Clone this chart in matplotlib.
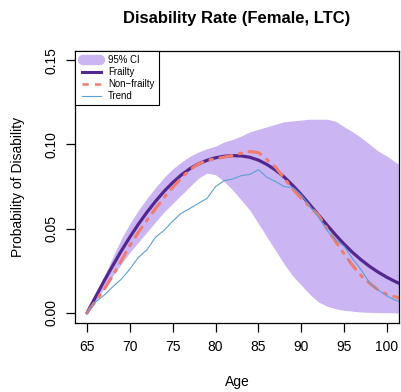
import matplotlib
matplotlib.use("Agg")
import matplotlib.pyplot as plt
from matplotlib.lines import Line2D
from matplotlib.legend_handler import HandlerLine2D

plt.rcParams['font.family'] = ['Liberation Sans', 'DejaVu Sans']

# ---------- Data ----------
ages = list(range(65, 103))

ci_upper = [0.000, 0.011, 0.022, 0.033, 0.044, 0.053, 0.061, 0.068, 0.0745, 0.0805,
            0.0855, 0.0895, 0.093, 0.0955, 0.0975, 0.099, 0.1015, 0.103, 0.105, 0.1075,
            0.109, 0.1105, 0.112, 0.1135, 0.114, 0.1145, 0.115, 0.115, 0.115, 0.1138,
            0.1105, 0.1075, 0.104, 0.100, 0.096, 0.093, 0.0895, 0.086]

ci_lower = [0.000, 0.007, 0.0145, 0.022, 0.029, 0.036, 0.042, 0.048, 0.054, 0.060,
            0.065, 0.070, 0.075, 0.080, 0.083, 0.082, 0.078, 0.073, 0.067, 0.061,
            0.053, 0.045, 0.037, 0.029, 0.022, 0.0165, 0.011, 0.0065, 0.004, 0.0025,
            0.0015, 0.001, 0.0005, 0.0003, 0.0002, 0.0001, 0.000, 0.000]

frailty = [0.000, 0.0095, 0.019, 0.028, 0.0368, 0.045, 0.0527, 0.0598, 0.0663, 0.0722,
           0.0774, 0.0819, 0.0856, 0.0885, 0.0906, 0.0921, 0.0930, 0.0934, 0.0932, 0.0924,
           0.0907, 0.0881, 0.0848, 0.0807, 0.0757, 0.0702, 0.0642, 0.0582, 0.0522, 0.0463,
           0.0408, 0.0358, 0.0314, 0.0275, 0.0241, 0.0211, 0.0185, 0.0162]

non_frailty = [0.000, 0.007, 0.014, 0.022, 0.031, 0.040, 0.048, 0.055, 0.062, 0.0685,
               0.0745, 0.080, 0.085, 0.0885, 0.0905, 0.0915, 0.0925, 0.0935, 0.0948, 0.0958,
               0.0952, 0.091, 0.0865, 0.080, 0.0735, 0.068, 0.063, 0.058, 0.050, 0.0425,
               0.035, 0.028, 0.022, 0.0175, 0.0135, 0.011, 0.0095, 0.008]

trend = [0.000, 0.0065, 0.0105, 0.0155, 0.020, 0.026, 0.033, 0.0375, 0.045, 0.049,
         0.0545, 0.0592, 0.062, 0.065, 0.068, 0.075, 0.0785, 0.0795, 0.0815, 0.0822,
         0.085, 0.0805, 0.078, 0.075, 0.0745, 0.070, 0.0635, 0.057, 0.049, 0.0435,
         0.0395, 0.032, 0.0255, 0.0175, 0.0135, 0.010, 0.0075, 0.006]

x_ticks = [65, 70, 75, 80, 85, 90, 95, 100]
y_ticks = [0.00, 0.05, 0.10, 0.15]
y_tick_labels = ["0.00", "0.05", "0.10", "0.15"]

# ---------- Colours ----------
band_col = '#CBB5F2'
frail_col = '#54278F'
nonfrail_col = '#F07B6E'
trend_col = '#5B9FD6'


class ShortLineHandler(HandlerLine2D):
    # shrink the legend line at both ends
    def __init__(self, shrink, **kw):
        super().__init__(**kw)
        self.shrink = shrink

    def create_artists(self, legend, orig_handle, xdescent, ydescent,
                       width, height, fontsize, trans):
        artists = super().create_artists(legend, orig_handle, xdescent, ydescent,
                                         width, height, fontsize, trans)
        for a in artists:
            xd = list(a.get_xdata())
            if len(xd) >= 2:
                lo, hi = xd[0] + self.shrink, xd[-1] - self.shrink
                step = (hi - lo) / (len(xd) - 1)
                a.set_xdata([lo + i * step for i in range(len(xd))])
        return artists


# ---------- Plot ----------
fig = plt.figure(figsize=(4.01, 3.92), dpi=100)
ax = fig.add_axes([75 / 401, 69 / 392, 324 / 401, 272 / 392])

ax.fill_between(ages, ci_lower, ci_upper, color=band_col, linewidth=0)
ax.plot(ages, frailty, color=frail_col, linewidth=2.3, solid_capstyle='round',
        solid_joinstyle='round')
ax.plot(ages, non_frailty, color=nonfrail_col, linewidth=2.2,
        dashes=(4, 2.5, 0.8, 2.5), dash_capstyle='round')
ax.plot(ages, trend, color=trend_col, linewidth=0.8)

ax.set_xlim(63.6, 101.4)
ax.set_ylim(-0.006, 0.1555)
ax.set_xticks(x_ticks)
ax.set_yticks(y_ticks)
ax.set_yticklabels(y_tick_labels, rotation=90, va='center')
ax.tick_params(axis='both', direction='out', length=6.5, width=0.9, labelsize=10)
ax.tick_params(axis='x', pad=6)
ax.tick_params(axis='y', pad=5.5)
for s in ax.spines.values():
    s.set_linewidth(0.9)

ax.set_title("Disability Rate (Female, LTC)", fontsize=12, fontweight='bold', pad=20)
ax.set_xlabel("Age", fontsize=10, labelpad=15)
ax.set_ylabel("Probability of Disability", fontsize=10, labelpad=14)

# ---------- Legend ----------
ci_h = Line2D([], [], color=band_col, linewidth=7.5, solid_capstyle='round')
frail_h = Line2D([], [], color=frail_col, linewidth=2.2)
nonfrail_h = Line2D([], [], color=nonfrail_col, linewidth=1.8, dashes=(2.5, 2.5))
trend_h = Line2D([], [], color=trend_col, linewidth=0.8)
handles = [ci_h, frail_h, nonfrail_h, trend_h]
labels = ["95% CI", "Frailty", "Non\u2212frailty", "Trend"]
leg = ax.legend(handles, labels, loc='upper left', bbox_to_anchor=(0, 1),
                borderaxespad=0, fontsize=6.9, fancybox=False, framealpha=1,
                edgecolor='black', handlelength=2.5, handletextpad=0.5,
                labelspacing=0.2, borderpad=0.45,
                handler_map={ci_h: ShortLineHandler(shrink=2.7),
                             frail_h: ShortLineHandler(shrink=1.6),
                             nonfrail_h: ShortLineHandler(shrink=1.6),
                             trend_h: ShortLineHandler(shrink=1.6)})
leg.get_frame().set_linewidth(0.8)

fig.savefig("out.png", dpi=100)
